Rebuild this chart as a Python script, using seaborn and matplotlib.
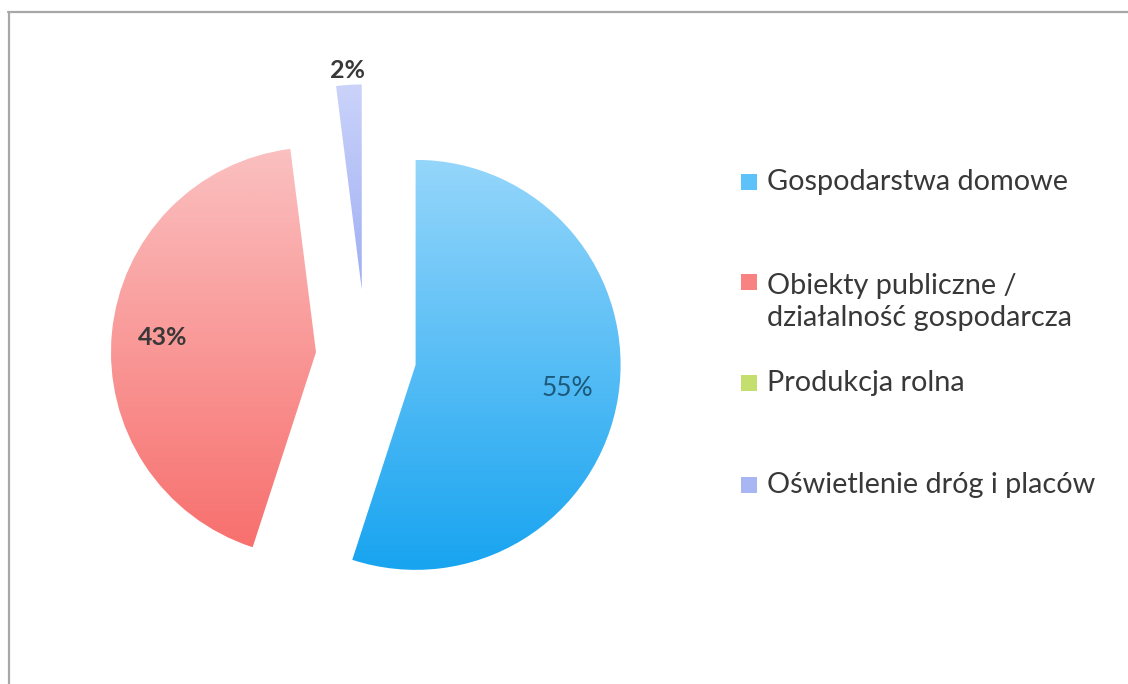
import numpy as np
import matplotlib
matplotlib.use("Agg")
import matplotlib.pyplot as plt
from matplotlib.colors import LinearSegmentedColormap
from matplotlib.lines import Line2D
from matplotlib.patches import Rectangle
import seaborn as sns

# Energy consumption structure by recipient group (%)
categories = [
    "Gospodarstwa domowe",
    "Obiekty publiczne /\ndziałalność gospodarcza",
    "Produkcja rolna",
    "Oświetlenie dróg i placów",
]
shares = [55, 43, 0, 2]

# flat colours (legend keys) and vertical gradients (top, bottom) for the slices
key_colors = ["#5ec2fa", "#f88282", "#c5df6e", "#a9b6f4"]
grad_colors = [
    ("#95d6fb", "#18a4f0"),
    ("#fbc0c0", "#f7706e"),
    ("#d8ec9a", "#b5d455"),
    ("#cbd3fa", "#9eaef3"),
]
explode = [0.245, 0.245, 0.0, 0.33]
pct_colors = ["#1d5a7a", "#383838", "#383838", "#383838"]

sns.set_theme(style="white")
plt.rcParams["font.family"] = ["Lato", "DejaVu Sans"]

W, H = 1128, 684
fig = plt.figure(figsize=(W / 100, H / 100), dpi=100)
fig.patch.set_facecolor("white")
ax = fig.add_axes([0, 0, 1, 1])

# pie centre and radius in pixels
cx, cy, R = 366, 357, 205

wedges, texts, autotexts = ax.pie(
    shares,
    startangle=90,
    counterclock=False,
    explode=explode,
    colors=key_colors,
    autopct=lambda p: f"{p:.0f}%" if p > 0.5 else "",
    pctdistance=0.75,
    wedgeprops=dict(linewidth=0),
    textprops=dict(fontsize=18, fontweight="bold"),
)

# gradient fill clipped to each wedge
for w, (ctop, cbot) in zip(wedges, grad_colors):
    if w.theta2 - w.theta1 <= 0:
        continue
    ext = w.get_path().get_extents()
    cmap = LinearSegmentedColormap.from_list("g", [cbot, ctop])
    im = ax.imshow(
        np.linspace(0, 1, 256).reshape(-1, 1),
        cmap=cmap,
        extent=[ext.x0, ext.x1, ext.y0, ext.y1],
        origin="lower",
        aspect="auto",
        interpolation="bilinear",
        zorder=w.get_zorder(),
    )
    im.set_clip_path(w)
    w.set_facecolor("none")

for t, c in zip(autotexts, pct_colors):
    t.set_color(c)
autotexts[0].set_fontweight("normal")
autotexts[0].set_fontsize(19)

# small slice: label sits just outside its wedge
small = wedges[3]
mid = np.deg2rad((small.theta1 + small.theta2) / 2)
wx, wy = small.center
autotexts[3].set_position((wx + 1.07 * small.r * np.cos(mid), wy + 1.07 * small.r * np.sin(mid)))

ax.set_xlim(-cx / R, (W - cx) / R)
ax.set_ylim((cy - H) / R, cy / R)
ax.set_aspect("auto")
ax.axis("off")

# legend drawn as key squares and text on the right
def fx(px):
    return px / W

def fy(py):
    return 1 - py / H

legend_rows = [182, 302, 383, 485]
for lab, col, yc in zip(categories, key_colors, legend_rows):
    nlines = lab.count("\n") + 1
    key_y = yc - (nlines - 1) * 20
    fig.patches.append(
        Rectangle((fx(741), fy(key_y + 8)), 16 / W, 16 / H,
                  transform=fig.transFigure, facecolor=col, edgecolor="none")
    )
    fig.text(fx(767), fy(yc), lab, fontsize=20.8, color="#383838",
             va="center", ha="left", linespacing=1.3)

# chart frame (top and left edges)
fig.lines.append(Line2D([fx(8), fx(W)], [fy(12), fy(12)], transform=fig.transFigure,
                        color="#a8a8a8", linewidth=1.6))
fig.lines.append(Line2D([fx(9), fx(9)], [fy(12), fy(H)], transform=fig.transFigure,
                        color="#a8a8a8", linewidth=1.6))

fig.savefig("out.png", dpi=100, facecolor="white")
